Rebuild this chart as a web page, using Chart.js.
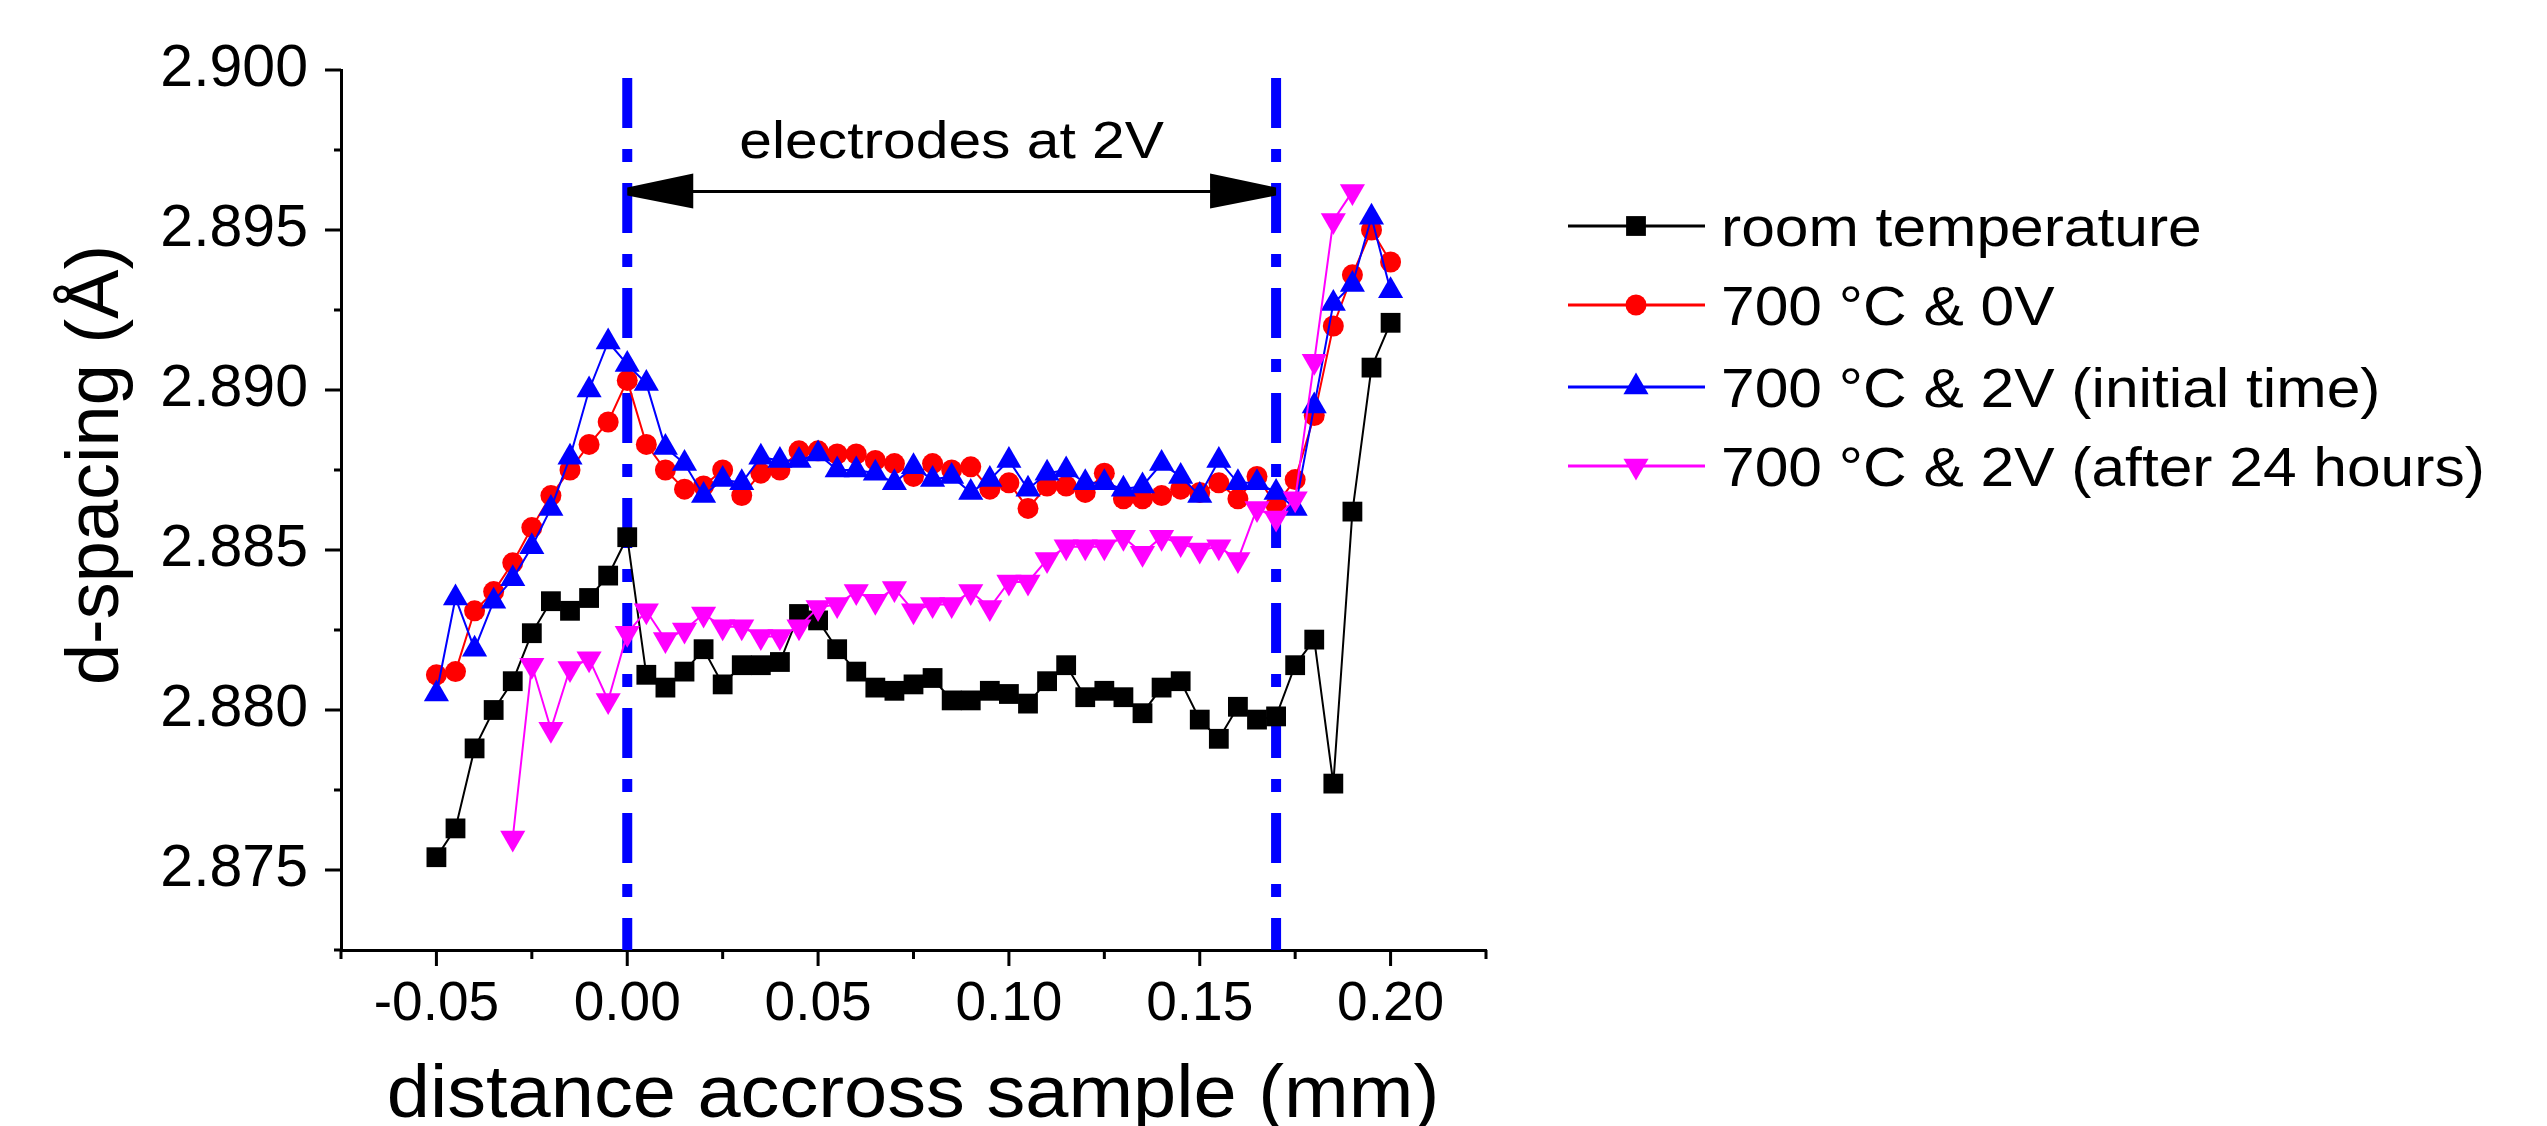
<!DOCTYPE html>
<html><head><meta charset="utf-8">
<script src="https://cdn.jsdelivr.net/npm/chart.js@4.4.1/dist/chart.umd.min.js"></script>
<style>html,body{margin:0;padding:0;background:#fff}canvas{display:block}</style>
</head><body>
<canvas id="c" width="2547" height="1126"></canvas>
<script>
(function(){
  'use strict';
  const FONT = '"Liberation Sans", Arial, sans-serif';

  // distancia a traves de la muestra (mm)
  const xs = [-0.05,-0.045,-0.04,-0.035,-0.03,-0.025,-0.02,-0.015,-0.01,-0.005,
    0,0.005,0.01,0.015,0.02,0.025,0.03,0.035,0.04,0.045,
    0.05,0.055,0.06,0.065,0.07,0.075,0.08,0.085,0.09,0.095,
    0.1,0.105,0.11,0.115,0.12,0.125,0.13,0.135,0.14,0.145,
    0.15,0.155,0.16,0.165,0.17,0.175,0.18,0.185,0.19,0.195,0.2];
  const xs24h = [-0.03,-0.025,-0.02,-0.015,-0.01,-0.005,
    0,0.005,0.01,0.015,0.02,0.025,0.03,0.035,0.04,0.045,
    0.05,0.055,0.06,0.065,0.07,0.075,0.08,0.085,0.09,0.095,
    0.1,0.105,0.11,0.115,0.12,0.125,0.13,0.135,0.14,0.145,
    0.15,0.155,0.16,0.165,0.17,0.175,0.18,0.185,0.19];

  // d-spacing (A)
  const roomTemp = [2.8754,2.8763,2.8788,2.8800,2.8809,2.8824,2.8834,2.8831,2.8835,2.8842,
    2.8854,2.8811,2.8807,2.8812,2.8819,2.8808,2.8814,2.8814,2.8815,2.8830,
    2.8828,2.8819,2.8812,2.8807,2.8806,2.8808,2.8810,2.8803,2.8803,2.8806,
    2.8805,2.8802,2.8809,2.8814,2.8804,2.8806,2.8804,2.8799,2.8807,2.8809,
    2.8797,2.8791,2.8801,2.8797,2.8798,2.8814,2.8822,2.8777,2.8862,2.8907,2.8921];
  const hot0V = [2.8811,2.8812,2.8831,2.8837,2.8846,2.8857,2.8867,2.8875,2.8883,2.8890,
    2.8903,2.8883,2.8875,2.8869,2.8870,2.8875,2.8867,2.8874,2.8875,2.8881,
    2.8881,2.8880,2.8880,2.8878,2.8877,2.8873,2.8877,2.8875,2.8876,2.8869,
    2.8871,2.8863,2.8870,2.8870,2.8868,2.8874,2.8866,2.8866,2.8867,2.8869,
    2.8868,2.8871,2.8866,2.8873,2.8864,2.8872,2.8892,2.8920,2.8936,2.8950,2.8940];
  const hot2VStart = [2.8805,2.8835,2.8819,2.8834,2.8841,2.8851,2.8863,2.8879,2.8900,2.8915,
    2.8908,2.8902,2.8882,2.8877,2.8867,2.8872,2.8871,2.8879,2.8878,2.8878,
    2.8880,2.8875,2.8875,2.8874,2.8871,2.8876,2.8872,2.8873,2.8868,2.8872,
    2.8878,2.8869,2.8874,2.8875,2.8871,2.8871,2.8869,2.8870,2.8877,2.8873,
    2.8867,2.8878,2.8871,2.8871,2.8868,2.8863,2.8895,2.8927,2.8933,2.8954,2.8931];
  const hot2V24h = [2.8760,2.8814,2.8794,2.8813,2.8816,2.8803,
    2.8824,2.8831,2.8822,2.8825,2.8830,2.8826,2.8826,2.8823,2.8823,2.8826,
    2.8832,2.8833,2.8837,2.8834,2.8838,2.8831,2.8833,2.8833,2.8837,2.8832,
    2.8840,2.8840,2.8847,2.8851,2.8851,2.8851,2.8854,2.8849,2.8854,2.8852,
    2.8850,2.8851,2.8847,2.8863,2.8860,2.8866,2.8909,2.8953,2.8962];

  const seriesNames = ['room temperature','700 °C & 0V','700 °C & 2V (initial time)','700 °C & 2V (after 24 hours)'];
  const xTickValues = [-0.075,-0.05,-0.025,0,0.025,0.05,0.075,0.1,0.125,0.15,0.175,0.2,0.225];
  const yTickValues = [2.8725,2.875,2.8775,2.88,2.8825,2.885,2.8875,2.89,2.8925,2.895,2.8975,2.9];
  const electrodeX = [0, 0.17];
  const arrowY = 2.8962;
  const arrowText = 'electrodes at 2V';
  const xTitle = 'distance accross sample (mm)';
  const yTitle = 'd-spacing (Å)';

  const S = [
    {color:'#000000', pointStyle:'rect',     radius:14,   rotation:0},
    {color:'#ff0000', pointStyle:'circle',   radius:10.5, rotation:0},
    {color:'#0000ff', pointStyle:'triangle', radius:14.5, rotation:0},
    {color:'#ff00ff', pointStyle:'triangle', radius:14.5, rotation:180}
  ];
  const pts = (x, y) => x.map((v, i) => ({x: v, y: y[i]}));
  const isMult = (v, s) => Math.abs(v / s - Math.round(v / s)) < 1e-6;

  const mk = (i, data) => ({label: seriesNames[i], data, order: 4 - i,
    borderColor: S[i].color, backgroundColor: S[i].color, borderWidth: 2, tension: 0,
    pointStyle: S[i].pointStyle, pointRadius: S[i].radius, pointRotation: S[i].rotation,
    pointBackgroundColor: S[i].color, pointBorderWidth: 0});

  function wideText(ctx, txt, x, y, sx, align){
    ctx.save(); ctx.translate(x, y); ctx.scale(sx, 1); ctx.textAlign = align; ctx.fillText(txt, 0, 0); ctx.restore();
  }

  const decor = {
    id: 'decor',
    beforeDatasetsDraw(chart){
      const {ctx, scales:{x, y}} = chart;
      ctx.save();
      ctx.strokeStyle = '#0000ff'; ctx.lineWidth = 10; ctx.setLineDash([50, 21, 13, 21]);
      electrodeX.forEach(v => {
        const px = x.getPixelForValue(v);
        ctx.beginPath(); ctx.moveTo(px, y.top + 8); ctx.lineTo(px, y.bottom); ctx.stroke();
      });
      ctx.restore();
    },
    afterDraw(chart){
      const {ctx, scales:{x, y}} = chart;
      ctx.save();
      // marcas de los ejes
      ctx.strokeStyle = '#000'; ctx.lineWidth = 3; ctx.beginPath();
      x.ticks.forEach(t => { const px = x.getPixelForValue(t.value); ctx.moveTo(px, x.top); ctx.lineTo(px, x.top + (isMult(t.value, 0.05) ? 16 : 9)); });
      y.ticks.forEach(t => { const py = y.getPixelForValue(t.value); ctx.moveTo(y.right, py); ctx.lineTo(y.right - (isMult(t.value, 0.005) ? 16 : 7), py); });
      ctx.stroke();

      // flecha entre electrodos
      const ax0 = x.getPixelForValue(electrodeX[0]), ax1 = x.getPixelForValue(electrodeX[1]), ay = y.getPixelForValue(arrowY);
      ctx.lineWidth = 3; ctx.beginPath(); ctx.moveTo(ax0 + 20, ay); ctx.lineTo(ax1 - 20, ay); ctx.stroke();
      ctx.fillStyle = '#000';
      [[ax0, 1], [ax1, -1]].forEach(([px, d]) => {
        ctx.beginPath(); ctx.moveTo(px, ay - 4); ctx.lineTo(px + d * 66, ay - 18); ctx.lineTo(px + d * 66, ay + 17); ctx.lineTo(px, ay + 4); ctx.closePath(); ctx.fill();
      });
      ctx.font = '52px ' + FONT; ctx.textBaseline = 'alphabetic';
      wideText(ctx, arrowText, (ax0 + ax1) / 2, ay - 34, 1.13, 'center');

      // titulos de ejes
      ctx.font = '75px ' + FONT;
      wideText(ctx, xTitle, 913, 1117, 1.035, 'center');
      ctx.save(); ctx.translate(118, 465); ctx.rotate(-Math.PI / 2); ctx.font = '74px ' + FONT; ctx.textAlign = 'center'; ctx.fillText(yTitle, 0, 0); ctx.restore();

      // leyenda
      const rows = [226, 305, 387, 466];
      ctx.font = '56px ' + FONT;
      chart.data.datasets.forEach((ds, i) => {
        const ly = rows[i];
        ctx.strokeStyle = S[i].color; ctx.lineWidth = 3; ctx.beginPath(); ctx.moveTo(1568, ly); ctx.lineTo(1705, ly); ctx.stroke();
        ctx.fillStyle = S[i].color;
        Chart.helpers.drawPoint(ctx, {pointStyle: S[i].pointStyle, radius: S[i].radius, rotation: S[i].rotation, borderWidth: 0}, 1636, ly);
        ctx.fillStyle = '#000'; ctx.textBaseline = 'alphabetic';
        wideText(ctx, ds.label, 1721, ly + 20, 1.08, 'left');
      });
      ctx.restore();
    }
  };

  new Chart(document.getElementById('c'), {
    type: 'line',
    data: {datasets: [mk(0, pts(xs, roomTemp)), mk(1, pts(xs, hot0V)), mk(2, pts(xs, hot2VStart)), mk(3, pts(xs24h, hot2V24h))]},
    options: {
      responsive: false, animation: false, devicePixelRatio: 1,
      layout: {padding: {left: 0, right: 1061, top: 70, bottom: 0}},
      plugins: {legend: {display: false}, tooltip: {enabled: false}},
      scales: {
        x: {type: 'linear', min: -0.075, max: 0.225,
          afterFit: s => { s.height = 176; },
          afterBuildTicks: s => { s.ticks = xTickValues.map(v => ({value: v})); },
          grid: {display: true, drawOnChartArea: false, drawTicks: false},
          border: {display: true, color: '#000', width: 3},
          ticks: {autoSkip: false, maxRotation: 0, padding: 22, color: '#000', font: {family: FONT, size: 55},
            callback: v => isMult(v, 0.05) ? v.toFixed(2) : ''}},
        y: {type: 'linear', min: 2.8725, max: 2.9,
          afterFit: s => { s.width = 341; },
          afterBuildTicks: s => { s.ticks = yTickValues.map(v => ({value: v})); },
          grid: {display: true, drawOnChartArea: false, drawTicks: false},
          border: {display: true, color: '#000', width: 3},
          ticks: {autoSkip: false, padding: 33, color: '#000', font: {family: FONT, size: 59},
            callback: v => isMult(v, 0.005) ? v.toFixed(3) : ''}}
      }
    },
    plugins: [decor]
  });
})();
</script>
</body></html>
